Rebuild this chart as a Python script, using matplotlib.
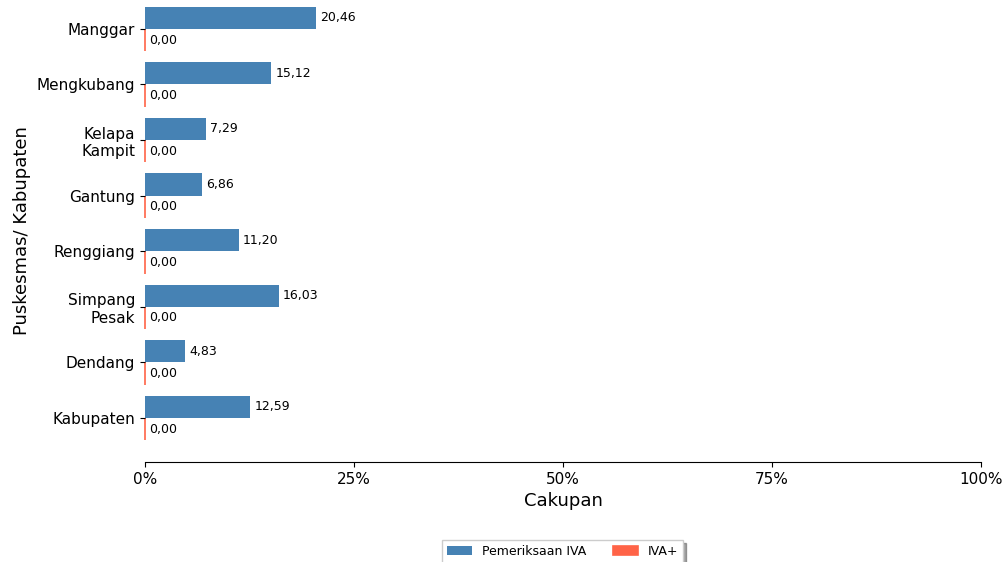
import numpy as np
import matplotlib.pyplot as plt
from matplotlib.ticker import PercentFormatter

## data
puskesmas = ["Manggar", "Mengkubang", "Kelapa\nKampit", "Gantung",
             "Renggiang", "Simpang\nPesak", "Dendang", "Kabupaten"]
pemeriksaan_iva = [20.46, 15.12, 7.29, 6.86, 11.20, 16.03, 4.83, 12.59]
iva_positif = [0.00, 0.00, 0.00, 0.00, 0.00, 0.00, 0.00, 0.00]

fig = plt.figure(figsize=(10.04, 5.62), dpi=100)
ax = fig.add_axes([0.1444, 0.178, 0.8327, 0.822])

y = np.arange(len(puskesmas))
w = 0.4
b1 = ax.barh(y - w / 2, pemeriksaan_iva, height=w, color="#4682B4", label="Pemeriksaan IVA")
b2 = ax.barh(y + w / 2, iva_positif, height=w, color="#FF6347", label="IVA+",
             edgecolor="#FF6347", linewidth=1.2)
for p in b2:
    p.set_clip_on(False)

fmt = lambda v: f"{v:.2f}".replace(".", ",")
ax.bar_label(b1, labels=[fmt(v) for v in pemeriksaan_iva], padding=3, fontsize=9)
ax.bar_label(b2, labels=[fmt(v) for v in iva_positif], padding=3, fontsize=9)

ax.set_yticks(y)
ax.set_yticklabels(puskesmas, fontsize=11)
ax.set_ylim(7.79, -0.52)
ax.set_xlim(0, 100)
ax.set_xticks([0, 25, 50, 75, 100])
ax.xaxis.set_major_formatter(PercentFormatter(decimals=0))
ax.tick_params(axis="x", labelsize=11)

for s in ["top", "right", "left"]:
    ax.spines[s].set_visible(False)

ax.set_xlabel("Cakupan", fontsize=13)
ax.set_ylabel("Puskesmas/ Kabupaten", fontsize=13)

ax.legend(loc="upper center", bbox_to_anchor=(0.5, -0.169), ncol=2, fontsize=9,
          shadow=True, fancybox=False, columnspacing=2.1, borderaxespad=0)

fig.savefig("out.png", dpi=100)
